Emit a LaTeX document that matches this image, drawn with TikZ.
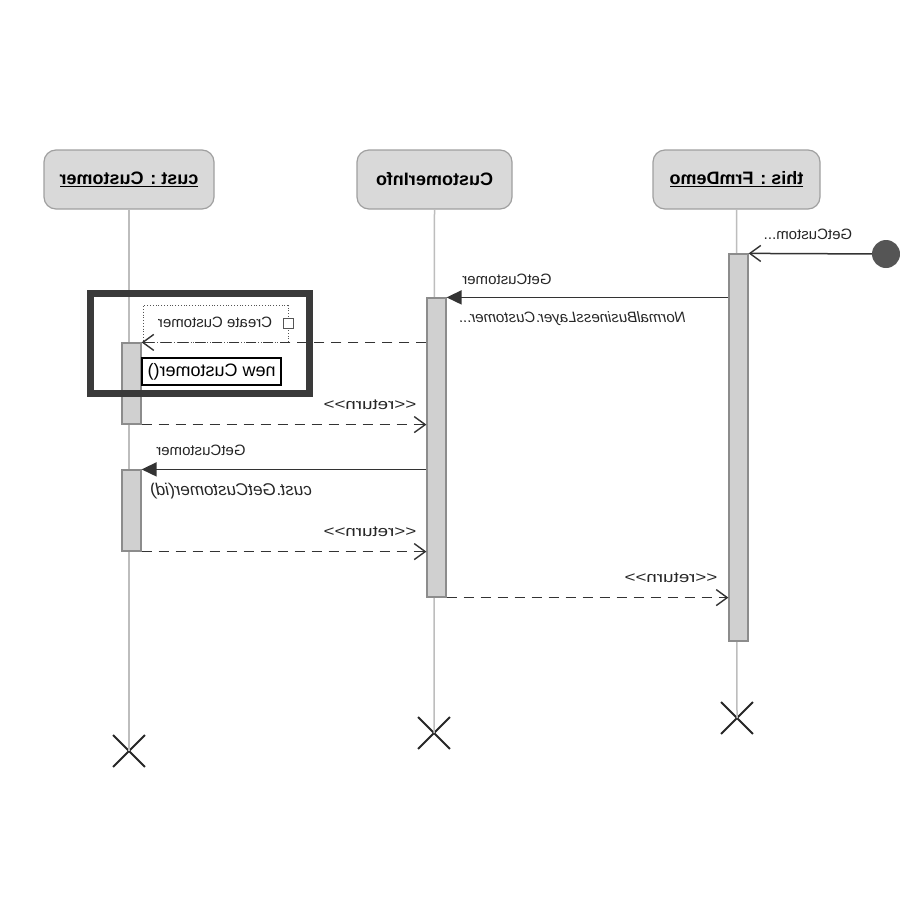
\documentclass[tikz,border=0pt]{standalone}
\usepackage{fontspec}
\setmainfont{Liberation Sans}
\usepackage{graphicx}
\usetikzlibrary{arrows.meta,shapes.misc}
\definecolor{headfill}{HTML}{D9D9D9}
\definecolor{headedge}{HTML}{A0A0A0}
\definecolor{barfill}{HTML}{D0D0D0}
\definecolor{baredge}{HTML}{8C8C8C}
\definecolor{lifegray}{HTML}{BDBDBD}
\definecolor{msgline}{HTML}{333333}
\definecolor{frame}{HTML}{3A3A3A}
\definecolor{dotgray}{HTML}{555555}
\newcommand\flipped[1]{\reflectbox{#1}}
\newcommand\flippedwide[1]{\scalebox{-1.25}[1]{#1}}
\tikzset{
  head/.style={draw=headedge, fill=headfill, rounded corners=12pt,
    minimum height=59pt, line width=1.2pt, inner sep=0pt,
    font=\fontsize{18}{21}\selectfont\bfseries},
  bar/.style={draw=baredge, fill=barfill, minimum width=19pt,
    line width=1.2pt, inner sep=0pt},
  life/.style={draw=lifegray, line width=1.5pt},
  endmark/.style={cross out, draw=black!85, minimum size=30pt,
    line width=1.8pt, inner sep=0pt},
  call/.style={draw=msgline, line width=1.6pt,
    -{Triangle[length=15pt,width=14pt]}},
  reply/.style={draw=msgline, line width=1.5pt,
    dash pattern=on 10pt off 7pt,
    -{Straight Barb[length=11pt,width=16pt,line width=1.4pt]}},
  lbl/.style={inner sep=0pt, text=black!85,
    font=\fontsize{15}{18}\selectfont},
  ilbl/.style={lbl, font=\fontsize{15}{18}\selectfont\itshape},
}
\begin{document}
\begin{tikzpicture}[x=1pt,y=-1pt]
\useasboundingbox[fill=white] (0,0) rectangle (900,900);

% lifeline heads
\node[head, minimum width=170pt] (hc) at (129,179.5) {\flipped{\underline{cust : Customer}}};
\node[head, minimum width=155pt] (hi) at (434.5,179.5) {\flipped{CustomerInfo}};
\node[head, minimum width=167pt] (hf) at (736.5,179.5) {\flipped{\underline{this : FrmDemo}}};

% destruction marks
\node[endmark] (xc) at (129,751) {};
\node[endmark] (xi) at (434,733) {};
\node[endmark] (xf) at (737,718) {};

% lifelines
\draw[life] (hc.south) -- (xc.center);
\draw[life] (hi.south) -- (xi.center);
\draw[life] (hf.south) -- (xf.center);

% activation bars
\node[bar, minimum height=387pt] (af) at (738.5,447.5) {};
\node[bar, minimum height=299pt] (ai) at (436.5,447.5) {};
\node[bar, minimum height=81pt] (ac1) at (131.5,383.5) {};
\node[bar, minimum height=81pt] (ac2) at (131.5,510.5) {};

% found message
\node[circle, fill=dotgray, minimum size=28pt, inner sep=0pt] (start) at (886,254) {};
\draw[draw=msgline, line width=1.5pt,
  -{Straight Barb[length=11pt,width=16pt,line width=1.4pt]}] (start) -- (af.north east);
\node[lbl] at (808,234) {\flipped{GetCustom...}};

% FrmDemo -> CustomerInfo
\draw[call] (af.west |- ai.north) -- (ai.north east);
\node[lbl] at (507,279) {\flipped{GetCustomer}};
\node[ilbl] at (572,319) {\flipped{NormalBusinessLayer.Customer...}};

% creation of cust
\node[draw=dotgray, dotted, fill=white, line width=0.8pt, minimum width=145pt,
  minimum height=37pt, inner sep=0pt] (cbox) at (215.5,324) {};
\node[lbl] (ctext) at (215,322) {\flipped{Create Customer}};
\node[draw=dotgray, fill=white, line width=1pt, minimum size=10pt, inner sep=0pt]
  (cmark) at (288,323.5) {};
\draw[reply] (ai.west |- ac1.north) -- (ac1.north east);
\node[draw=black, fill=white, line width=1.3pt, minimum width=139pt,
  minimum height=27pt, inner sep=0pt, font=\fontsize{18}{21}\selectfont]
  (newc) at (211.5,371.5) {\flipped{new Customer()}};

% return from constructor
\draw[reply] (ac1.south east) -- (ai.west |- ac1.south);
\node[lbl] at (370,405) {\flippedwide{<{}<return>{}>}};

% CustomerInfo -> cust
\draw[call] (ai.west |- ac2.north) -- (ac2.north east);
\node[lbl] at (201,450) {\flipped{GetCustomer}};
\node[ilbl, font=\fontsize{17}{20}\selectfont\itshape] at (231,491) {\flipped{cust.GetCustomer(id)}};

% returns
\draw[reply] (ac2.south east) -- (ai.west |- ac2.south);
\node[lbl] at (370,532) {\flippedwide{<{}<return>{}>}};
\draw[reply] (ai.south east) -- (af.west |- ai.south);
\node[lbl] at (671,578) {\flippedwide{<{}<return>{}>}};

% highlight frame
\draw[frame, line width=7pt] (90.5,293.5) rectangle (309.5,393.5);
\end{tikzpicture}
\end{document}
